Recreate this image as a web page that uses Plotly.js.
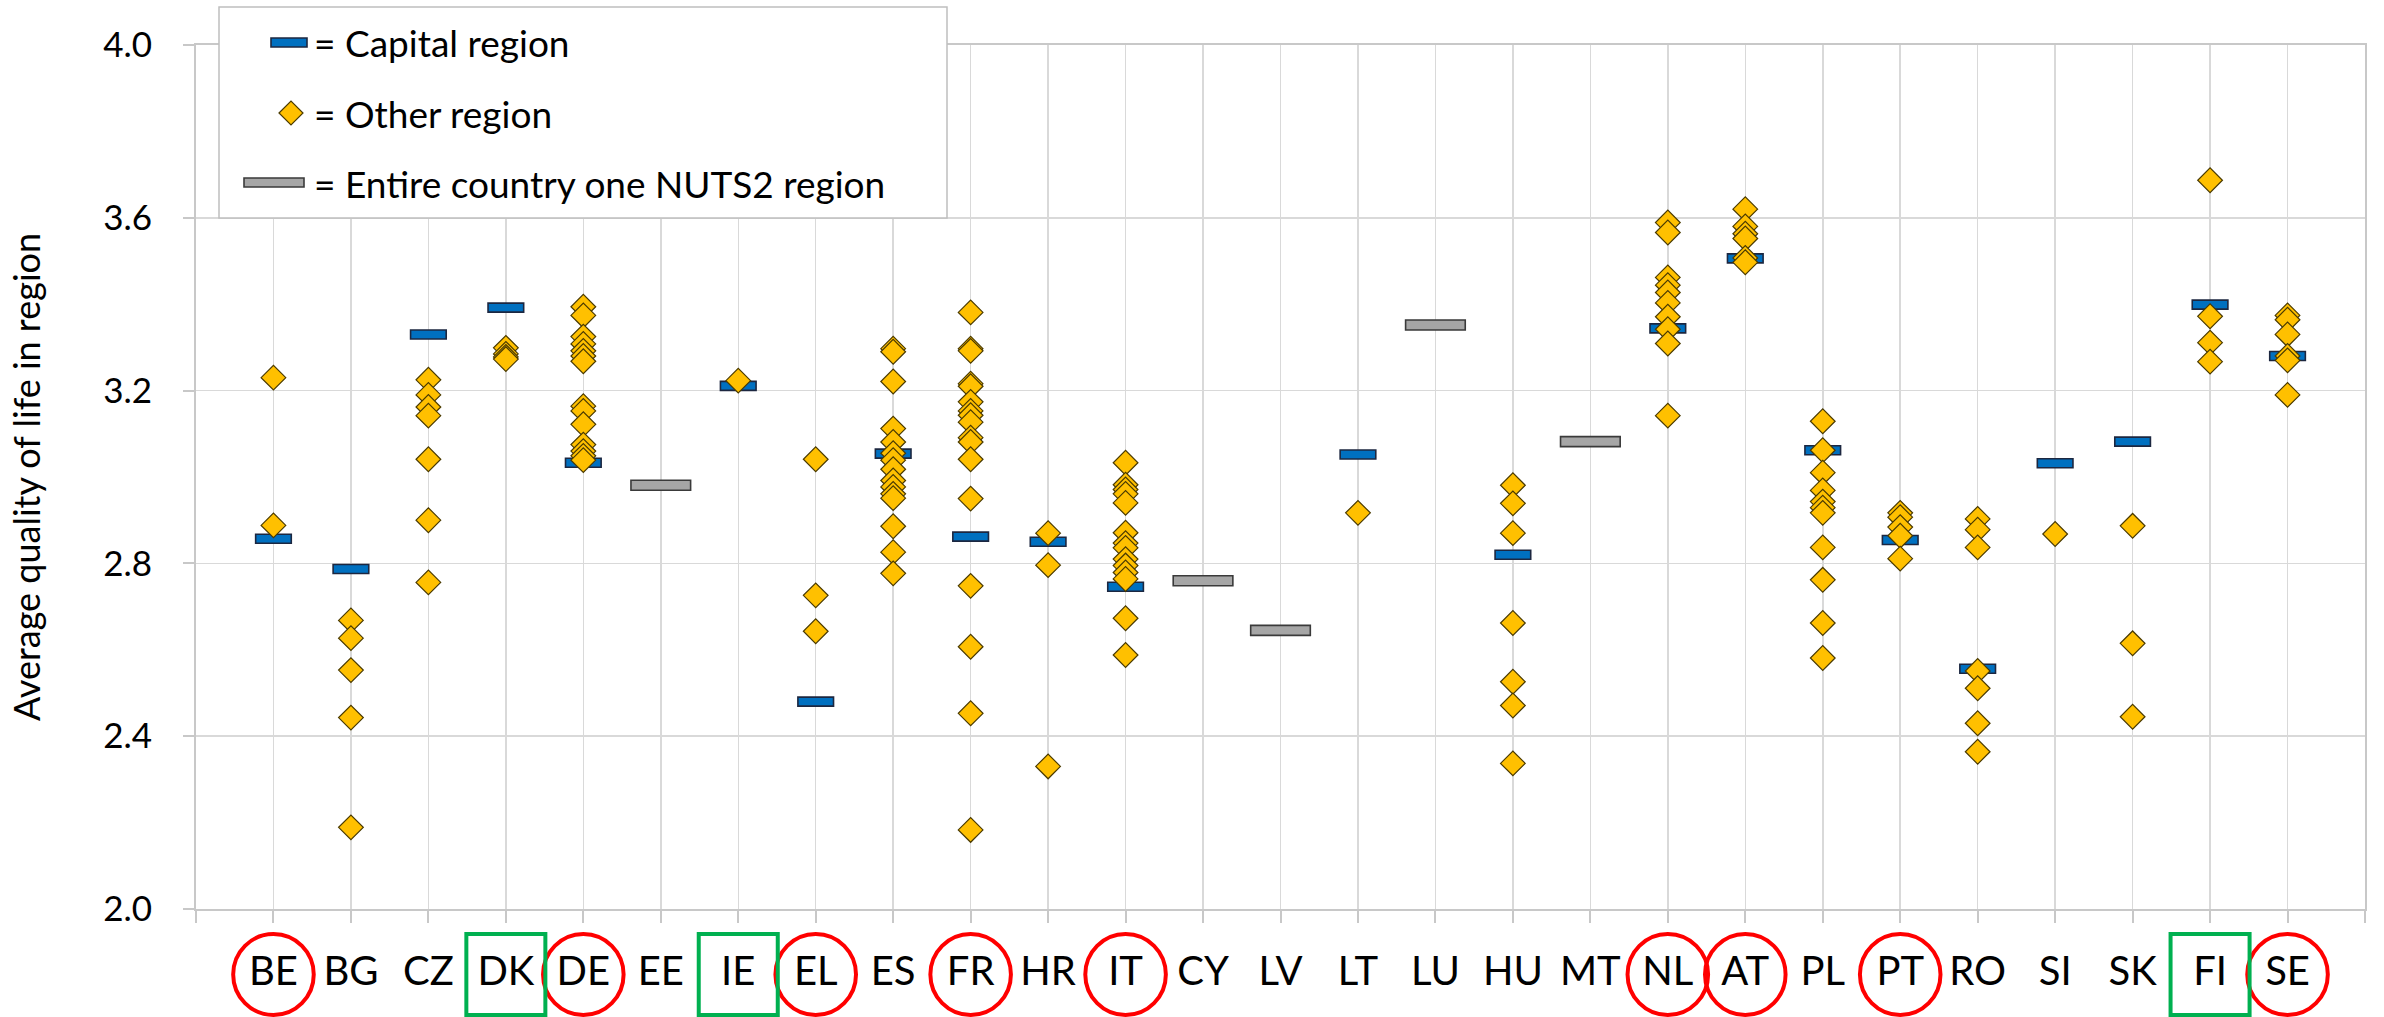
<!DOCTYPE html>
<html><head><meta charset="utf-8">
<script src="https://cdn.plot.ly/plotly-3.0.1.min.js"></script>
<style>html,body{margin:0;padding:0;background:#fff}</style>
</head><body><div id="chart" style="width:2384px;height:1017px"></div>
<script>
const countries = ['BE','BG','CZ','DK','DE','EE','IE','EL','ES','FR','HR','IT','CY','LV','LT','LU','HU','MT','NL','AT','PL','PT','RO','SI','SK','FI','SE'];
const capitalValue = [2.857, 2.787, 3.330, 3.392, 3.033, null, 3.211, 2.480, 3.054, 2.862, 2.850, 2.746, null, null, 3.052, null, 2.820, null, 3.344, 3.506, 3.062, 2.854, 2.556, 3.032, 3.082, 3.399, 3.280];
const wholeCountryValue = [null, null, null, null, null, 2.981, null, null, null, null, null, null, 2.760, 2.645, null, 3.352, null, 3.082, null, null, null, null, null, null, null, null, null];
const otherValues = [
  [3.230, 2.888],
  [2.668, 2.627, 2.553, 2.443, 2.189],
  [3.225, 3.190, 3.162, 3.142, 3.041, 2.900, 2.756],
  [3.299, 3.285, 3.278, 3.273],
  [3.394, 3.374, 3.325, 3.308, 3.292, 3.280, 3.268, 3.164, 3.153, 3.122, 3.075, 3.060, 3.049, 3.039],
  [],
  [3.223],
  [3.041, 2.726, 2.643],
  [3.297, 3.290, 3.221, 3.112, 3.081, 3.055, 3.039, 3.018, 2.992, 2.977, 2.961, 2.951, 2.886, 2.826, 2.777],
  [3.381, 3.297, 3.292, 3.216, 3.210, 3.174, 3.153, 3.143, 3.127, 3.091, 3.081, 3.041, 2.950, 2.748, 2.607, 2.453, 2.183],
  [2.870, 2.796, 2.330],
  [3.033, 2.982, 2.971, 2.961, 2.940, 2.871, 2.847, 2.836, 2.810, 2.795, 2.779, 2.764, 2.673, 2.588],
  [],
  [],
  [2.917],
  [],
  [2.981, 2.939, 2.870, 2.662, 2.526, 2.471, 2.337],
  [],
  [3.589, 3.566, 3.462, 3.444, 3.427, 3.403, 3.371, 3.342, 3.309, 3.142],
  [3.620, 3.580, 3.563, 3.552, 3.507, 3.497],
  [3.129, 3.062, 3.010, 2.969, 2.943, 2.929, 2.917, 2.837, 2.762, 2.662, 2.581],
  [2.917, 2.907, 2.884, 2.864, 2.811],
  [2.903, 2.878, 2.837, 2.551, 2.511, 2.430, 2.364],
  [2.868],
  [2.887, 2.615, 2.445],
  [3.687, 3.372, 3.311, 3.267],
  [3.374, 3.364, 3.330, 3.280, 3.270, 3.190]
];
const circledCountries = ['BE','DE','EL','FR','IT','NL','AT','PT','SE'];
const boxedCountries = ['DK','IE','FI'];
const yTickValues = [2.0, 2.4, 2.8, 3.2, 3.6, 4.0];
const legendLabels = ['= Capital region', '= Other region', '= Entire country one NUTS2 region'];
const yTitle = 'Average quality of life in region';

// ---- layout geometry ----
const W = 2384, H = 1017;
const M = {l: 196, r: 19, t: 45, b: 108};
const PW = W - M.l - M.r, PH = H - M.t - M.b;
const pxX = X => (X - M.l) / PW;
const pxY = Y => (H - M.b - Y) / PH;
const FONT = 'Lato, "Open Sans", sans-serif';

const idx = countries.map((c, i) => i);
const pxPerUnitY = PH / 2.0;   // y range is 2.0 .. 4.0
const capH = 9 / pxPerUnitY, wholeH = 10 / pxPerUnitY;

const capX = [], capY = [], capBase = [];
capitalValue.forEach((v, i) => { if (v !== null) { capX.push(i); capY.push(capH); capBase.push(v - capH / 2); } });
const wX = [], wY = [], wBase = [];
wholeCountryValue.forEach((v, i) => { if (v !== null) { wX.push(i); wY.push(wholeH); wBase.push(v - wholeH / 2); } });
const oX = [], oY = [];
otherValues.forEach((arr, i) => arr.forEach(v => { oX.push(i); oY.push(v); }));

const traces = [
  {type: 'bar', x: capX, y: capY, base: capBase, width: 0.46, name: 'Capital region',
   marker: {color: '#0070C0', line: {color: '#1C2740', width: 1.6}}, showlegend: false, hoverinfo: 'skip'},
  {type: 'bar', x: wX, y: wY, base: wBase, width: 0.77, name: 'Entire country one NUTS2 region',
   marker: {color: '#A6A6A6', line: {color: '#3A3A3A', width: 1.6}}, showlegend: false, hoverinfo: 'skip'},
  {type: 'scatter', mode: 'markers', x: oX, y: oY, name: 'Other region',
   marker: {symbol: 'diamond', size: 19, color: '#FFC000', line: {color: '#4A3A00', width: 1.2}}, showlegend: false, hoverinfo: 'skip'}
];

const shapes = [];
// circles and boxes around selected country labels
const lblTop = pxY(934), lblBot = pxY(1015);
circledCountries.forEach(c => {
  const i = countries.indexOf(c);
  shapes.push({type: 'circle', xref: 'x', yref: 'paper', x0: i - 0.52, x1: i + 0.52, y0: lblBot, y1: lblTop,
               line: {color: '#FF0000', width: 4}, layer: 'above'});
});
boxedCountries.forEach(c => {
  const i = countries.indexOf(c);
  shapes.push({type: 'rect', xref: 'x', yref: 'paper', x0: i - 0.51, x1: i + 0.51, y0: lblBot, y1: lblTop,
               line: {color: '#00B050', width: 4}, layer: 'above'});
});
// custom legend box
shapes.push({type: 'rect', xref: 'paper', yref: 'paper', x0: pxX(219), x1: pxX(947), y0: pxY(218), y1: pxY(7),
             fillcolor: '#FFFFFF', line: {color: '#BFBFBF', width: 1.5}, layer: 'above'});
shapes.push({type: 'rect', xref: 'paper', yref: 'paper', x0: pxX(271), x1: pxX(307), y0: pxY(47), y1: pxY(38),
             fillcolor: '#0070C0', line: {color: '#1C2740', width: 1.6}, layer: 'above'});
const dcx = 291, dcy = 113, dr = 12;
shapes.push({type: 'path', xref: 'paper', yref: 'paper', layer: 'above',
             path: `M${pxX(dcx - dr)},${pxY(dcy)} L${pxX(dcx)},${pxY(dcy - dr)} L${pxX(dcx + dr)},${pxY(dcy)} L${pxX(dcx)},${pxY(dcy + dr)} Z`,
             fillcolor: '#FFC000', line: {color: '#4A3A00', width: 1.2}});
shapes.push({type: 'rect', xref: 'paper', yref: 'paper', x0: pxX(244), x1: pxX(304), y0: pxY(187), y1: pxY(178),
             fillcolor: '#A6A6A6', line: {color: '#3A3A3A', width: 1.6}, layer: 'above'});

const annotations = legendLabels.map((t, k) => ({
  xref: 'paper', yref: 'paper', x: pxX(312), y: pxY([43, 113, 183][k]), xanchor: 'left', yanchor: 'middle',
  text: t, showarrow: false, font: {family: FONT, size: 37, color: '#000000'}
}));

const tickVals = [-1, ...idx, countries.length];
const tickText = ['', ...countries, ''];

const layout = {
  width: W, height: H,
  margin: M,
  paper_bgcolor: '#FFFFFF', plot_bgcolor: '#FFFFFF',
  barmode: 'overlay',
  showlegend: false,
  font: {family: FONT, color: '#000000'},
  xaxis: {
    range: [-1, countries.length], tickmode: 'array', tickvals: tickVals, ticktext: tickText,
    showgrid: true, gridcolor: '#D9D9D9', gridwidth: 1.5,
    showline: true, linecolor: '#C8C8C8', linewidth: 2, mirror: true,
    ticks: 'outside', ticklen: 12, tickcolor: '#C8C8C8', tickwidth: 2,
    tickfont: {family: FONT, size: 40, color: '#000000'}, ticklabelstandoff: 14,
    zeroline: false, automargin: false, fixedrange: true
  },
  yaxis: {
    range: [2.0, 4.0], tickmode: 'array', tickvals: yTickValues, tickformat: '.1f',
    showgrid: true, gridcolor: '#D9D9D9', gridwidth: 1.5,
    showline: true, linecolor: '#C8C8C8', linewidth: 2, mirror: true,
    ticks: 'outside', ticklen: 11, tickcolor: '#C8C8C8', tickwidth: 2,
    tickfont: {family: FONT, size: 35, color: '#000000'}, ticklabelstandoff: 24,
    title: {text: yTitle, font: {family: FONT, size: 36, color: '#000000'}, standoff: 52},
    zeroline: false, automargin: false, fixedrange: true
  },
  shapes: shapes,
  annotations: annotations
};

Plotly.newPlot('chart', traces, layout, {displayModeBar: false, staticPlot: true});
</script>
</body></html>
